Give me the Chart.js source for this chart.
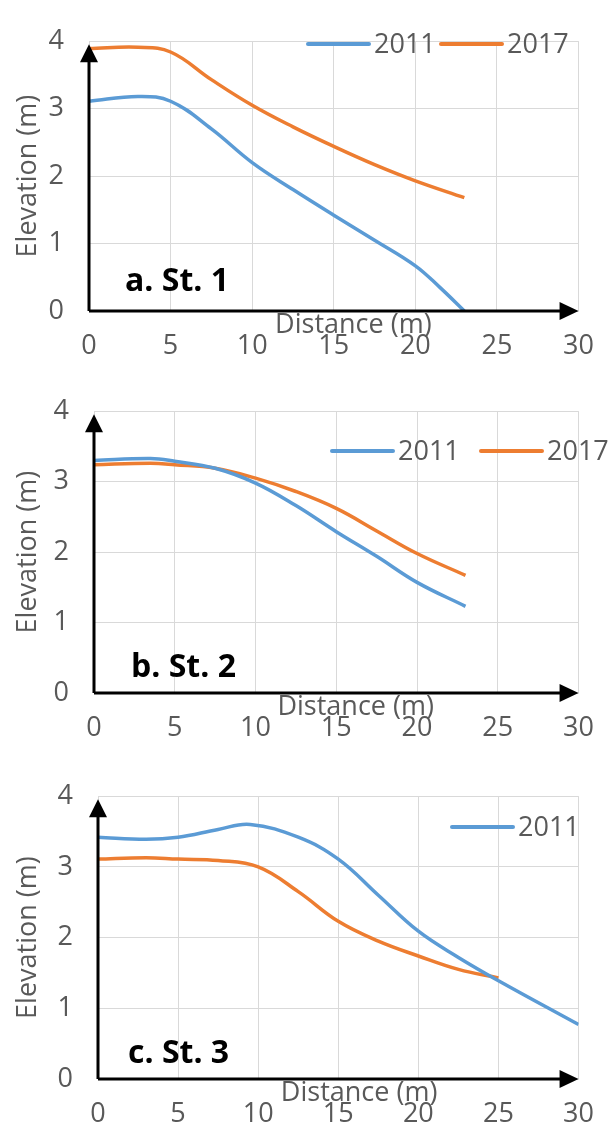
<!DOCTYPE html>
<html>
<head>
<meta charset="utf-8">
<script src="https://cdn.jsdelivr.net/npm/chart.js@4.4.1/dist/chart.umd.min.js"></script>
<style>
  html, body { margin: 0; padding: 0; background: #fff; }
  #wrap { position: relative; width: 613px; height: 1129px; overflow: hidden; }
  canvas { position: absolute; left: 0; }
</style>
</head>
<body>
<div id="wrap">
  <canvas id="chartA" width="613" height="370" style="top:0px"></canvas>
  <canvas id="chartB" width="613" height="385" style="top:370px"></canvas>
  <canvas id="chartC" width="613" height="374" style="top:755px"></canvas>
</div>
<script>
// profile data (distance in m, elevation in m)
const seriesLabels = ["2011", "2017"];
const xTicks = [0, 5, 10, 15, 20, 25, 30];
const yTicks = [0, 1, 2, 3, 4];

// a. St. 1
const distA2011 = [0, 3, 5, 7.5, 10, 12.5, 15, 17.5, 20, 21.5, 23];
const elevA2011 = [3.11, 3.18, 3.11, 2.70, 2.20, 1.80, 1.42, 1.05, 0.67, 0.35, 0];
const distA2017 = [0, 3, 5, 7.5, 10, 12.5, 15, 17.5, 20, 23];
const elevA2017 = [3.89, 3.91, 3.84, 3.43, 3.05, 2.73, 2.44, 2.17, 1.93, 1.68];

// b. St. 2
const distB2011 = [0, 3.5, 5, 7.5, 10, 12.5, 15, 17.5, 20, 23];
const elevB2011 = [3.30, 3.33, 3.29, 3.19, 2.98, 2.66, 2.29, 1.94, 1.57, 1.23];
const distB2017 = [0, 3.5, 5, 7.5, 10, 12.5, 15, 17.5, 20, 23];
const elevB2017 = [3.24, 3.26, 3.24, 3.19, 3.05, 2.86, 2.62, 2.30, 1.98, 1.67];

// c. St. 3
const distC2011 = [0, 3, 5, 7.5, 9.5, 12.5, 15, 17.5, 20, 22.5, 25, 30];
const elevC2011 = [3.42, 3.39, 3.42, 3.53, 3.60, 3.42, 3.11, 2.60, 2.09, 1.72, 1.39, 0.77];
const distC2017 = [0, 3, 5, 7.5, 10, 12.5, 15, 17.5, 20, 22.5, 25];
const elevC2017 = [3.11, 3.13, 3.11, 3.09, 3.00, 2.65, 2.23, 1.95, 1.74, 1.55, 1.43];

const colors = ["#5B9BD5", "#ED7D31"];
const greyText = "#595959";
const fontFam = "'Open Sans', 'Noto Sans', sans-serif";
const txtSize = 27;

function pts(xs, ys) {
  return xs.map((x, i) => ({ x: x, y: ys[i] }));
}

// draws the black arrow axes, the panel tag, the x title and the legend
const panelDecor = {
  id: "panelDecor",
  afterDatasetsDraw(chart, args, opts) {
    const ctx = chart.ctx;
    const a = chart.chartArea;
    ctx.save();
    // axes with arrow heads
    ctx.strokeStyle = "#000";
    ctx.fillStyle = "#000";
    ctx.lineWidth = 3;
    ctx.beginPath();
    ctx.moveTo(a.left, a.bottom);
    ctx.lineTo(a.left, a.top + 18);
    ctx.moveTo(a.left, a.bottom);
    ctx.lineTo(a.right - 16, a.bottom);
    ctx.stroke();
    ctx.beginPath();
    ctx.moveTo(a.left, a.top + 3);
    ctx.lineTo(a.left - 9, a.top + 21);
    ctx.lineTo(a.left + 9, a.top + 21);
    ctx.closePath();
    ctx.fill();
    ctx.beginPath();
    ctx.moveTo(a.right, a.bottom);
    ctx.lineTo(a.right - 19, a.bottom - 9);
    ctx.lineTo(a.right - 19, a.bottom + 9);
    ctx.closePath();
    ctx.fill();

    // x axis title sits between axis and tick labels
    const xs = chart.scales.x;
    ctx.font = txtSize + "px " + fontFam;
    ctx.fillStyle = greyText;
    ctx.textAlign = "center";
    ctx.textBaseline = "alphabetic";
    ctx.fillText("Distance (m)", xs.getPixelForValue(opts.titleAt), a.bottom + 22);

    // panel tag
    ctx.font = "bold 32px " + fontFam;
    ctx.fillStyle = "#000";
    ctx.textAlign = "left";
    ctx.fillText(opts.tag, opts.tagX, a.bottom - opts.tagUp);

    // legend
    ctx.font = txtSize + "px " + fontFam;
    ctx.textBaseline = "middle";
    opts.legendX.forEach((lx, i) => {
      const ds = chart.data.datasets[i];
      ctx.strokeStyle = ds.borderColor;
      ctx.lineWidth = 4;
      ctx.lineCap = "round";
      ctx.beginPath();
      ctx.moveTo(lx, opts.legendY);
      ctx.lineTo(lx + 61, opts.legendY);
      ctx.stroke();
      ctx.fillStyle = greyText;
      ctx.fillText(ds.label, lx + 66, opts.legendY + 1);
    });
    ctx.restore();
  }
};

function makePanel(id, box, sets, decor) {
  const canvas = document.getElementById(id);
  const W = canvas.width, H = canvas.height;
  return new Chart(canvas, {
    type: "line",
    data: {
      datasets: sets.map((s, i) => ({
        label: seriesLabels[i],
        data: s,
        borderColor: colors[i],
        backgroundColor: colors[i],
        borderWidth: 3.5,
        pointRadius: 0,
        tension: 0.4,
        fill: false
      }))
    },
    plugins: [panelDecor],
    options: {
      responsive: false,
      animation: false,
      layout: { padding: { top: box.top, right: W - box.right, left: 0, bottom: 0 } },
      plugins: {
        legend: { display: false },
        tooltip: { enabled: false },
        panelDecor: decor
      },
      scales: {
        x: {
          type: "linear",
          min: 0,
          max: 30,
          afterBuildTicks: s => { s.ticks = xTicks.map(v => ({ value: v })); },
          ticks: { color: greyText, padding: 19, maxRotation: 0, font: { family: fontFam, size: txtSize } },
          grid: { color: "#d9d9d9", drawTicks: false, lineWidth: 1 },
          border: { display: false },
          afterFit: s => { s.height = H - box.bottom; }
        },
        y: {
          min: 0,
          max: 4,
          afterBuildTicks: s => { s.ticks = yTicks.map(v => ({ value: v })); },
          ticks: { color: greyText, padding: 25, font: { family: fontFam, size: txtSize } },
          grid: { color: "#d9d9d9", drawTicks: false, lineWidth: 1 },
          border: { display: false },
          title: {
            display: true,
            text: "Elevation (m)",
            color: greyText,
            font: { family: fontFam, size: txtSize },
            padding: { top: 12, bottom: 0 }
          },
          afterFit: s => { s.width = box.left; }
        }
      }
    }
  });
}

makePanel("chartA",
  { top: 17, bottom: 311, left: 89, right: 588 },
  [pts(distA2011, elevA2011), pts(distA2017, elevA2017)],
  { tag: "a. St. 1", tagX: 125, tagUp: 20, titleAt: 16.2, legendX: [308, 441], legendY: 44 });

makePanel("chartB",
  { top: 28, bottom: 323, left: 94, right: 587 },
  [pts(distB2011, elevB2011), pts(distB2017, elevB2017)],
  { tag: "b. St. 2", tagX: 131, tagUp: 16, titleAt: 16.2, legendX: [332, 481], legendY: 81 });

makePanel("chartC",
  { top: 38, bottom: 324, left: 98, right: 588 },
  [pts(distC2011, elevC2011), pts(distC2017, elevC2017)],
  { tag: "c. St. 3", tagX: 128, tagUp: 16, titleAt: 16.3, legendX: [452], legendY: 72 });
</script>
</body>
</html>
